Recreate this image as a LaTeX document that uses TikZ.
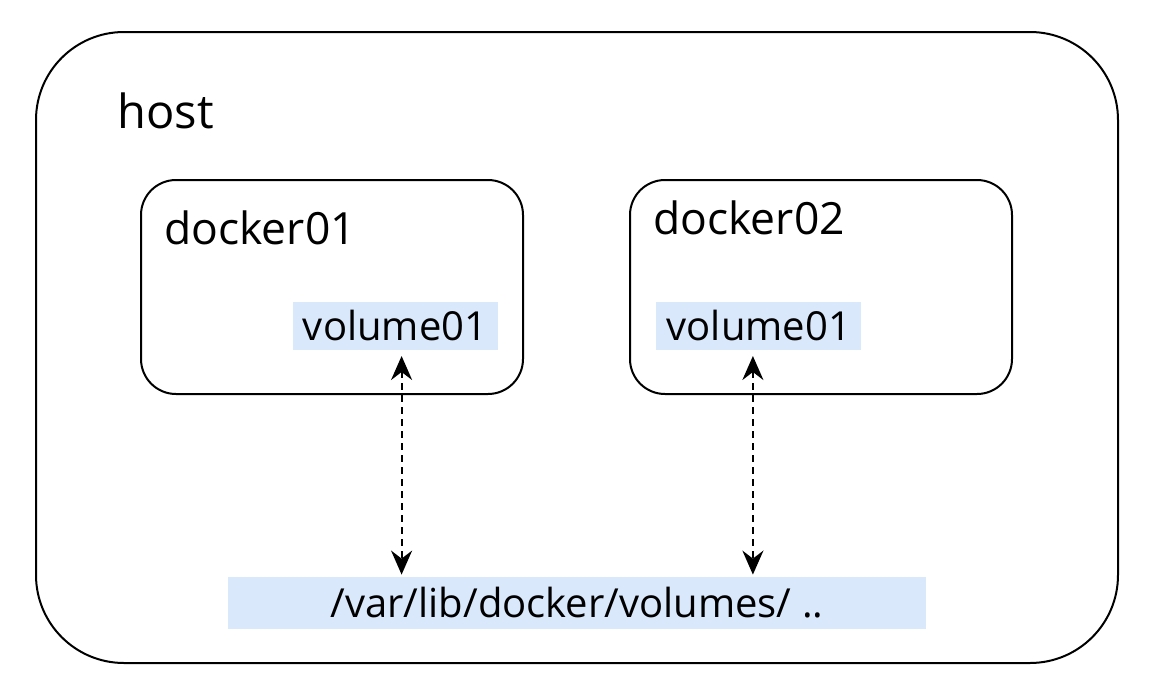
\documentclass[tikz,border=0pt]{standalone}
\usepackage{fontspec}
\setmainfont{Open Sans}
\usepackage{xcolor}
\usepackage{tikz}
\usetikzlibrary{shapes.geometric, arrows.meta, positioning}
\definecolor{volblue}{HTML}{DAE8FC}
\tikzstyle{hostbox} = [rectangle, rounded corners=44pt, minimum width=541pt, minimum height=315.5pt, draw=black, line width=1pt]
\tikzstyle{dockerbox} = [rectangle, rounded corners=17.5pt, minimum width=191pt, minimum height=107pt, draw=black, line width=1pt]
\tikzstyle{volume} = [rectangle, fill=volblue, inner sep=0pt, minimum width=102.5pt, minimum height=24pt, text centered, font=\fontsize{20}{24}\selectfont]
\tikzstyle{label} = [inner sep=0pt, anchor=base west]
\tikzstyle{arrow} = [line width=1.1pt, dash pattern=on 3.5pt off 2.5pt, arrows={Stealth[length=12pt,width=10.5pt,inset=4pt]-Stealth[length=12pt,width=10.5pt,inset=4pt]}]

\begin{document}
\begin{tikzpicture}
  \useasboundingbox (0,0) rectangle (576pt,-345.5pt);
  % nodes
    \node (host) [hostbox] at (288.5pt,-173.75pt) {};
    \node (hostlabel) [label, font=\fontsize{23.5}{28}\selectfont] at (58.5pt,-64pt) {host};
    \node (docker01) [dockerbox] at (166pt,-143.5pt) {};
    \node (docker02) [dockerbox, right = 52.5pt of docker01] {};
    \node (d01label) [label, font=\fontsize{22.2}{26}\selectfont] at ([xshift=12pt,yshift=-32.5pt]docker01.north west) {docker01};
    \node (d02label) [label, font=\fontsize{22.2}{26}\selectfont] at ([xshift=12pt,yshift=-27.5pt]docker02.north west) {docker02};
    \node (vol01a) [volume, anchor=south east] at ([xshift=-13pt,yshift=22.5pt]docker01.south east) {volume01};
    \node (vol01b) [volume, anchor=south west] at ([xshift=13.5pt,yshift=22.5pt]docker02.south west) {volume01};
    \node (hostpath) [volume, minimum width=349pt, minimum height=26pt] at (288.5pt,-301.5pt) {/var/lib/docker/volumes/ ..};
  %arrows
    \draw [arrow] ([xshift=3.25pt,yshift=-3pt]vol01a.south) -- ([xshift=3.25pt,yshift=1pt]vol01a.south |- hostpath.north);
    \draw [arrow] ([xshift=-3pt,yshift=-3pt]vol01b.south) -- ([xshift=-3pt,yshift=1pt]vol01b.south |- hostpath.north);
\end{tikzpicture}
\end{document}
